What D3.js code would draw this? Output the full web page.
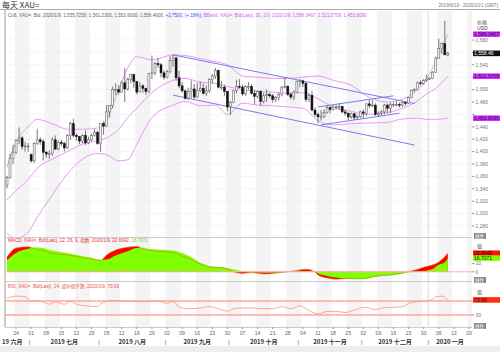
<!DOCTYPE html>
<html>
<head>
<meta charset="utf-8">
<script src="https://cdn.jsdelivr.net/npm/d3@7"></script>
<style>
body { margin: 0; background: #fff; }
svg { display: block; font-family: "Liberation Sans", Arial, sans-serif; }
</style>
</head>
<body>
<svg id="chart" width="500" height="352"></svg>
<script>
// daily candles, 2019-06-19 .. 2020-01-09 (one line per week)
const candleOpen = [
  1346, 1358, 1389,
  1399, 1418, 1422, 1408, 1409,
  1395, 1385, 1413, 1419, 1416,
  1399, 1396, 1397, 1419, 1404,
  1415, 1413, 1406, 1426, 1445,
  1426, 1424, 1417, 1426, 1414,
  1419, 1426, 1431, 1413, 1445,
  1441, 1464, 1474, 1500, 1500,
  1496, 1511, 1501, 1516, 1524,
  1513, 1496, 1506, 1502, 1497,
  1526, 1527, 1542, 1540, 1527,
  1520, 1529, 1547, 1551, 1519,
  1506, 1498, 1486, 1497, 1501,
  1488, 1498, 1502, 1494, 1498,
  1516, 1522, 1531, 1504, 1504,
  1497, 1472, 1479, 1498, 1505,
  1504, 1493, 1505, 1505, 1494,
  1489, 1497, 1481, 1490, 1492,
  1490, 1484, 1487, 1492, 1504,
  1505, 1492, 1488, 1496, 1513,
  1514, 1510, 1484, 1491, 1467,
  1460, 1456, 1456, 1463, 1471,
  1468, 1472, 1472, 1473, 1464,
  1462, 1456, 1461, 1455, 1457,
  1464, 1462, 1477, 1474, 1475,
  1460, 1462, 1464, 1475, 1470,
  1476, 1476, 1476, 1475, 1479,
  1478, 1487, 1499, 1500, 1511,
  1510, 1515, 1517, 1518, 1528,
  1551, 1566, 1574, 1555.7
];
const candleHigh = [
  1361, 1397, 1411,
  1420, 1439, 1425, 1416, 1414,
  1397, 1415, 1437, 1423, 1420,
  1401, 1402, 1423, 1426, 1418,
  1419, 1416, 1428, 1448, 1453,
  1429, 1425, 1428, 1434, 1424,
  1429, 1436, 1434, 1445, 1449,
  1475, 1475, 1505, 1510, 1507,
  1514, 1535, 1519, 1525, 1526,
  1513, 1512, 1509, 1503, 1527,
  1555, 1545, 1551, 1543, 1531,
  1532, 1554, 1557, 1553, 1530,
  1512, 1500, 1503, 1515, 1509,
  1511, 1513, 1510, 1507, 1518,
  1525, 1535, 1532, 1514, 1508,
  1497, 1482, 1500, 1516, 1517,
  1508, 1507, 1512, 1509, 1500,
  1499, 1499, 1495, 1500, 1495,
  1493, 1490, 1495, 1506, 1519,
  1507, 1496, 1499, 1514, 1517,
  1516, 1512, 1494, 1498, 1471,
  1463, 1467, 1468, 1474, 1473,
  1475, 1475, 1478, 1474, 1468,
  1463, 1463, 1462, 1459, 1466,
  1468, 1478, 1484, 1483, 1478,
  1465, 1467, 1477, 1477, 1479,
  1479, 1481, 1479, 1481, 1481,
  1488, 1500, 1502, 1513, 1515,
  1517, 1524, 1520, 1530, 1553,
  1582, 1576, 1611, 1561.2
];
const candleLow = [
  1341, 1356, 1380,
  1396, 1412, 1403, 1400, 1400,
  1382, 1382, 1411, 1411, 1386,
  1390, 1388, 1393, 1403, 1402,
  1409, 1400, 1404, 1419, 1423,
  1418, 1412, 1413, 1411, 1412,
  1417, 1424, 1411, 1400, 1427,
  1440, 1455, 1470, 1491, 1492,
  1495, 1480, 1498, 1510, 1503,
  1492, 1496, 1495, 1491, 1494,
  1517, 1523, 1535, 1520, 1516,
  1518, 1526, 1537, 1514, 1502,
  1495, 1484, 1483, 1486, 1485,
  1487, 1496, 1492, 1490, 1495,
  1510, 1517, 1502, 1500, 1490,
  1465, 1459, 1478, 1494, 1502,
  1490, 1490, 1500, 1492, 1476,
  1486, 1474, 1478, 1480, 1486,
  1479, 1480, 1482, 1489, 1502,
  1490, 1484, 1483, 1495, 1504,
  1504, 1480, 1480, 1465, 1456,
  1446, 1450, 1454, 1461, 1462,
  1466, 1468, 1467, 1462, 1458,
  1451, 1453, 1451, 1452, 1454,
  1454, 1458, 1470, 1472, 1458,
  1456, 1458, 1460, 1462, 1462,
  1472, 1473, 1471, 1472, 1474,
  1477, 1486, 1497, 1499, 1507,
  1508, 1512, 1516, 1517, 1527,
  1550, 1557, 1556, 1553.6
];
const candleClose = [
  1358, 1389, 1399,
  1418, 1422, 1408, 1409, 1409,
  1385, 1413, 1419, 1416, 1399,
  1396, 1397, 1419, 1404, 1415,
  1413, 1406, 1426, 1445, 1426,
  1424, 1417, 1426, 1414, 1419,
  1426, 1431, 1413, 1445, 1441,
  1464, 1474, 1500, 1500, 1496,
  1511, 1501, 1516, 1524, 1513,
  1496, 1506, 1502, 1497, 1526,
  1527, 1542, 1540, 1527, 1520,
  1529, 1547, 1551, 1519, 1506,
  1498, 1486, 1497, 1501, 1488,
  1498, 1502, 1494, 1498, 1516,
  1522, 1531, 1504, 1504, 1497,
  1472, 1479, 1498, 1505, 1504,
  1493, 1505, 1505, 1494, 1489,
  1497, 1481, 1490, 1492, 1490,
  1484, 1487, 1492, 1504, 1505,
  1492, 1488, 1496, 1513, 1514,
  1510, 1484, 1491, 1467, 1460,
  1456, 1456, 1463, 1471, 1468,
  1472, 1472, 1473, 1464, 1462,
  1456, 1461, 1455, 1457, 1464,
  1462, 1477, 1474, 1475, 1460,
  1462, 1464, 1475, 1470, 1476,
  1476, 1476, 1475, 1479, 1478,
  1487, 1499, 1500, 1511, 1510,
  1515, 1517, 1518, 1528, 1551,
  1566, 1574, 1556, 1558.46
];

const bbDates = ["2019-06-19", "2019-06-24", "2019-06-28", "2019-07-03", "2019-07-10", "2019-07-17",
  "2019-07-24", "2019-07-31", "2019-08-05", "2019-08-09", "2019-08-14", "2019-08-19", "2019-08-26",
  "2019-09-04", "2019-09-10", "2019-09-17", "2019-09-24", "2019-09-30", "2019-10-07", "2019-10-14",
  "2019-10-21", "2019-10-28", "2019-11-04", "2019-11-11", "2019-11-18", "2019-11-26", "2019-12-03",
  "2019-12-12", "2019-12-18", "2019-12-26", "2019-12-31", "2020-01-03", "2020-01-09"];
const bbUpper = [1375, 1415, 1440, 1452, 1445, 1436, 1436, 1438, 1452, 1500, 1535, 1553, 1548,
  1556, 1555, 1550, 1545, 1540, 1522, 1520, 1518, 1518, 1520, 1522, 1515, 1507, 1490,
  1480, 1483, 1500, 1518, 1545, 1589.35];
const bbMid = [1322, 1337, 1355, 1373, 1388, 1400, 1412, 1418, 1422, 1436, 1455, 1470, 1495,
  1515, 1518, 1512, 1510, 1505, 1500, 1497, 1496, 1494, 1495, 1485, 1472, 1465, 1460,
  1463, 1468, 1482, 1493, 1502, 1521.57];
const bbLower = [1268, 1260, 1270, 1294, 1330, 1364, 1388, 1397, 1395, 1385, 1387, 1412, 1455,
  1475, 1481, 1474, 1475, 1460, 1478, 1475, 1474, 1472, 1470, 1450, 1443, 1445, 1446,
  1447, 1452, 1454, 1452, 1452, 1453.81];

// hand-drawn trend lines: [from date, price, to date, price]
const trendLines = [
  ["2019-09-04", 1556, "2019-12-25", 1477.5],
  ["2019-09-04", 1491, "2019-12-25", 1410.5],
  ["2019-11-11", 1472, "2019-12-16", 1490],
  ["2019-11-12", 1443, "2019-12-18", 1462]
];

// MACD (12, 26, 9)
const macdDates = ["2019-06-19", "2019-06-24", "2019-06-28", "2019-07-02", "2019-07-05", "2019-07-10",
  "2019-07-17", "2019-07-23", "2019-07-29", "2019-08-01", "2019-08-05", "2019-08-08", "2019-08-14",
  "2019-08-19", "2019-08-21", "2019-08-26", "2019-08-29", "2019-09-04", "2019-09-06", "2019-09-12",
  "2019-09-17", "2019-09-23", "2019-09-27", "2019-10-02", "2019-10-07", "2019-10-10", "2019-10-16",
  "2019-10-21", "2019-10-30", "2019-11-05", "2019-11-08", "2019-11-11", "2019-11-14", "2019-11-19",
  "2019-11-26", "2019-12-02", "2019-12-06", "2019-12-13", "2019-12-19", "2019-12-23", "2019-12-25",
  "2019-12-30", "2020-01-02", "2020-01-06", "2020-01-08", "2020-01-09"];
const macdLine = [18, 29, 30.5, 28, 26, 22, 20.5, 18, 15.5, 14, 20.5, 26.5, 30, 31, 28, 26, 24.5,
  23.5, 20.5, 15, 9.5, 5.6, 4.5, 0, -2, -1, -2.7, -2, 1, 3, 0, -4, -7.5, -9, -8, -8, -5.5, -3.5,
  -1.5, 0.5, 2, 5.6, 8.5, 12, 18.5, 22.6];
const macdSignal = [14, 23, 28, 30, 29, 26, 23, 20, 17, 14.5, 15, 20, 25, 29, 29, 27.5, 27, 26, 24,
  18, 11, 6.4, 5.2, 3, 1, 0, -1, -1, 0.5, 1, 1, -2, -5, -7, -9, -9, -6, -4.5, -2.5, -1, 0, 1, 3.5,
  8.5, 11.6, 16.7];

// RSI (14)
const rsiDates = ["2019-06-19", "2019-06-24", "2019-06-27", "2019-07-01", "2019-07-02", "2019-07-05",
  "2019-07-09", "2019-07-11", "2019-07-16", "2019-07-18", "2019-07-22", "2019-07-25", "2019-07-31",
  "2019-08-01", "2019-08-07", "2019-08-14", "2019-08-19", "2019-08-22", "2019-08-26", "2019-08-29",
  "2019-09-02", "2019-09-04", "2019-09-06", "2019-09-11", "2019-09-17", "2019-09-20", "2019-09-25",
  "2019-09-30", "2019-10-02", "2019-10-07", "2019-10-10", "2019-10-16", "2019-10-21", "2019-10-24",
  "2019-10-29", "2019-11-01", "2019-11-05", "2019-11-11", "2019-11-14", "2019-11-19", "2019-11-22",
  "2019-11-26", "2019-11-29", "2019-12-03", "2019-12-06", "2019-12-10", "2019-12-16", "2019-12-19",
  "2019-12-23", "2019-12-26", "2019-12-31", "2020-01-02", "2020-01-03", "2020-01-07", "2020-01-09"];
const rsiValues = [78, 84, 83, 68, 72, 67, 61, 67, 61, 69, 61, 56, 54, 62, 71, 70, 68, 68, 70, 68,
  63, 69, 52, 48, 50, 54, 48, 41, 48, 50, 50, 48, 48, 54, 48, 56, 48, 33, 40, 41, 37, 41, 50, 52,
  45, 50, 52, 54, 63, 68, 70.5, 75, 82, 84, 73];

// axis labels
const priceTicks = d3.range(1280, 1581, 20);
const weekTickDays = ["2019-06-24", "2019-07-01", "2019-07-08", "2019-07-15", "2019-07-22", "2019-07-29",
  "2019-08-05", "2019-08-12", "2019-08-19", "2019-08-26", "2019-09-02", "2019-09-09", "2019-09-16",
  "2019-09-23", "2019-09-30", "2019-10-07", "2019-10-14", "2019-10-21", "2019-10-28", "2019-11-04",
  "2019-11-11", "2019-11-18", "2019-11-25", "2019-12-02", "2019-12-09", "2019-12-16", "2019-12-23",
  "2019-12-30", "2020-01-06", "2020-01-13", "2020-01-20"];
const monthStarts = ["2019-07-01", "2019-08-01", "2019-09-02", "2019-10-01", "2019-11-01", "2019-12-02", "2020-01-01"];
const monthNames = ["19 六月", "2019 七月", "2019 八月", "2019 九月", "2019 十月", "2019 十一月", "2019 十二月", "2020 一月"];

const svg = d3.select("#chart");
const fmtDay = d3.timeFormat("%Y-%m-%d");
const allDays = d3.timeDay.range(new Date(2019, 5, 19), new Date(2020, 0, 22))
  .filter(d => d.getDay() % 6 !== 0)
  .map(fmtDay);

const plotL = 5, plotR = 472;
const main = { top: 11, bottom: 237 }, macdP = { top: 237, bottom: 281 }, rsiP = { top: 281, bottom: 327 };

const x = d3.scalePoint().domain(allDays).range([7, 472]);
const step = x.step();
const yP = d3.scaleLinear().domain([1280, 1580]).range([226, 40]);
const yM = d3.scaleLinear().domain([0, 10]).range([271.8, 263.6]);
const yR = d3.scaleLinear().domain([30, 70]).range([315, 301]);

// clip paths
const defs = svg.append("defs");
[["clipMain", main], ["clipMacd", macdP], ["clipRsi", rsiP]].forEach(([id, p]) => {
  defs.append("clipPath").attr("id", id).append("rect")
    .attr("x", plotL).attr("y", p.top).attr("width", plotR - plotL).attr("height", p.bottom - p.top);
});

// alternating week bands
const bandG = svg.append("g");
weekTickDays.forEach((d, i) => {
  if (i % 2 !== 0) return;
  const x0 = x(d) - step / 2;
  const x1 = i + 1 < weekTickDays.length ? x(weekTickDays[i + 1]) - step / 2 : plotR;
  bandG.append("rect").attr("x", x0).attr("y", main.top).attr("width", Math.min(x1, plotR) - x0)
    .attr("height", rsiP.bottom - main.top).attr("fill", "#f4f4f4");
});

// horizontal grid
svg.append("g").selectAll("line").data(priceTicks).join("line")
  .attr("x1", plotL).attr("x2", plotR).attr("y1", d => yP(d)).attr("y2", d => yP(d))
  .attr("stroke", "#ececec").attr("stroke-width", 0.6);

// year separator
svg.append("line").attr("x1", x("2020-01-01") - step / 2).attr("x2", x("2020-01-01") - step / 2)
  .attr("y1", main.top).attr("y2", rsiP.bottom).attr("stroke", "#d8d8d8");

// frame lines
svg.append("line").attr("x1", 0).attr("x2", 500).attr("y1", 9.5).attr("y2", 9.5).attr("stroke", "#aaa");
svg.append("line").attr("x1", plotL).attr("x2", plotL).attr("y1", 10).attr("y2", rsiP.bottom).attr("stroke", "#999");
[main.bottom, macdP.bottom, rsiP.bottom].forEach(yy => {
  svg.append("line").attr("x1", plotL).attr("x2", plotR).attr("y1", yy + 0.5).attr("y2", yy + 0.5)
    .attr("stroke", "#ccc");
});

// ---------- main panel ----------
const gMain = svg.append("g").attr("clip-path", "url(#clipMain)");
const bbLine = (vals) => d3.line().curve(d3.curveMonotoneX)
  .x((d, i) => x(bbDates[i])).y(d => yP(d))(vals);
[bbUpper, bbMid, bbLower].forEach(v => {
  gMain.append("path").attr("d", bbLine(v)).attr("fill", "none").attr("stroke", "#e58cf5").attr("stroke-width", 0.9);
});

gMain.selectAll(".trend").data(trendLines).join("line").attr("class", "trend")
  .attr("x1", d => x(d[0])).attr("y1", d => yP(d[1]))
  .attr("x2", d => x(d[2])).attr("y2", d => yP(d[3]))
  .attr("stroke", "#7b7bf0").attr("stroke-width", 1);

const candles = candleOpen.map((o, i) => ({ day: allDays[i], o, h: candleHigh[i], l: candleLow[i], c: candleClose[i] }));
const cg = gMain.selectAll(".candle").data(candles).join("g").attr("class", "candle");
cg.append("line")
  .attr("x1", d => x(d.day)).attr("x2", d => x(d.day))
  .attr("y1", d => yP(d.h)).attr("y2", d => yP(d.l))
  .attr("stroke", "#555").attr("stroke-width", 0.8);
cg.append("rect")
  .attr("x", d => x(d.day) - 1).attr("width", 2)
  .attr("y", d => yP(Math.max(d.o, d.c)))
  .attr("height", d => Math.max(0.8, Math.abs(yP(d.o) - yP(d.c))))
  .attr("fill", d => d.c >= d.o ? "#f4f4f4" : "#111")
  .attr("stroke", d => d.c >= d.o ? "#555" : "#111").attr("stroke-width", 0.5);

// ---------- MACD panel ----------
const gMacd = svg.append("g").attr("clip-path", "url(#clipMacd)");
const areaM = (vals) => d3.area().curve(d3.curveMonotoneX)
  .x((d, i) => x(macdDates[i])).y0(yM(0)).y1(d => yM(d))(vals);
gMacd.append("path").attr("d", areaM(macdLine)).attr("fill", "#ff0000");
gMacd.append("path").attr("d", areaM(macdSignal)).attr("fill", "#80ff00");
gMacd.append("path")
  .attr("d", d3.line().curve(d3.curveMonotoneX).x((d, i) => x(macdDates[i])).y(d => yM(d))(macdLine))
  .attr("fill", "none").attr("stroke", "#c08a10").attr("stroke-width", 0.8).attr("stroke-opacity", 0.8);
gMacd.append("line").attr("x1", plotL).attr("x2", plotR).attr("y1", yM(0)).attr("y2", yM(0))
  .attr("stroke", "#ffb0b0").attr("stroke-width", 1);

// ---------- RSI panel ----------
const gRsi = svg.append("g").attr("clip-path", "url(#clipRsi)");
[70, 30].forEach(v => {
  gRsi.append("line").attr("x1", plotL).attr("x2", plotR).attr("y1", yR(v)).attr("y2", yR(v))
    .attr("stroke", "#ffa898").attr("stroke-width", 1.5);
});
gRsi.append("path")
  .attr("d", d3.line().curve(d3.curveMonotoneX).x((d, i) => x(rsiDates[i])).y(d => yR(d))(rsiValues))
  .attr("fill", "none").attr("stroke", "#ff9a80").attr("stroke-width", 0.9);

// ---------- texts ----------
svg.append("text").attr("x", 2).attr("y", 8).attr("font-size", 8)
  .attr("font-family", "Noto Sans CJK SC").attr("fill", "#333").text("每天 XAU=");
svg.append("text").attr("x", 498).attr("y", 7).attr("text-anchor", "end").attr("font-size", 4.6)
  .attr("fill", "#777").text("2019/6/19 - 2020/1/21 (GMT)");

const legMain = svg.append("text").attr("x", 8).attr("y", 16.5).attr("font-size", 4.6);
legMain.append("tspan").attr("fill", "#666")
  .text("Cn8, XAU=, Bid, 2020/1/9, 1,555.7250, 1,561.2300, 1,553.6000, 1,558.4600, ");
legMain.append("tspan").attr("fill", "#4a4aff").text("+2.7500, (+.18%), ");
legMain.append("tspan").attr("fill", "#d060f0").text("BBand, XAU=, Bid(Last), 20, 2.0, 2020/1/9, 1,589.3467, 1,521.5709, 1,453.8090");

const legMacd = svg.append("text").attr("x", 8).attr("y", 242).attr("font-size", 4.6)
  .attr("font-family", "Liberation Sans, Noto Sans CJK SC");
legMacd.append("tspan").attr("fill", "#ee3030").text("MACD, XAU=, Bid(Last), 12, 26, 9, 指数, 2020/1/9, 22.6042, ");
legMacd.append("tspan").attr("fill", "#70d000").text("16.7071");

svg.append("text").attr("x", 8).attr("y", 288).attr("font-size", 4.6)
  .attr("font-family", "Liberation Sans, Noto Sans CJK SC").attr("fill", "#ee5050")
  .text("RSI, XAU=, Bid(Last), 14, 威尔德平滑, 2020/1/9, 73.09");

// right axis
const axisG = svg.append("g").attr("font-size", 5).attr("fill", "#777");
const priceFlags = [1589.3467, 1521.5709, 1453.8090, 1558.46];
function tick(yv, label, hide) {
  axisG.append("line").attr("x1", plotR).attr("x2", plotR + 2.5).attr("y1", yv).attr("y2", yv).attr("stroke", "#999");
  if (!hide) axisG.append("text").attr("x", plotR + 3.5).attr("y", yv + 1.7).text(label);
}
priceTicks.forEach(v => {
  const hide = priceFlags.some(f => Math.abs(yP(f) - yP(v)) < 4);
  tick(yP(v), d3.format(",")(v), hide);
});
axisG.append("text").attr("x", 477).attr("y", 24).attr("font-family", "Noto Sans CJK SC")
  .attr("fill", "#444").text("价格");
axisG.append("text").attr("x", 477).attr("y", 30).attr("fill", "#444").text("USD");

function flag(yv, bg, fg, label) {
  axisG.append("rect").attr("x", 473).attr("y", yv - 2.8).attr("width", 27).attr("height", 5.6).attr("fill", bg);
  axisG.append("text").attr("x", 474).attr("y", yv + 1.7).attr("fill", fg).text(label);
}
flag(yP(1589.3467), "#cc33ff", "#3a0050", "1,589.3467");
flag(yP(1521.5709), "#cc33ff", "#3a0050", "1,521.5709");
flag(yP(1453.8090), "#cc33ff", "#3a0050", "1,453.8090");
flag(yP(1558.46), "#111", "#fff", "1,558.46");

// MACD axis
[10, 0].forEach(v => tick(yM(v), v, false));
axisG.append("text").attr("x", 477).attr("y", 248).attr("font-family", "Noto Sans CJK SC").attr("fill", "#444").text("值");
flag(yM(22.6042), "#ff1010", "#300", "22.6042");
flag(yM(16.7071), "#80ff00", "#230", "16.7071");

// RSI axis
tick(yR(70), 70, true);
tick(yR(30), 30, false);
axisG.append("text").attr("x", 477).attr("y", 294).attr("font-family", "Noto Sans CJK SC").attr("fill", "#444").text("值");
flag(yR(73.09), "#ff3010", "#300", "73.09");

// gray scale-name boxes
[main.bottom, macdP.bottom, rsiP.bottom].forEach(yy => {
  axisG.append("rect").attr("x", 474).attr("y", yy - 4).attr("width", 12).attr("height", 6).attr("fill", "#888");
  axisG.append("text").attr("x", 475).attr("y", yy + 0.8).attr("font-size", 4.5)
    .attr("font-family", "Noto Sans CJK SC").attr("fill", "#fff").text("线性");
});

// bottom axis
const xg = svg.append("g").attr("font-size", 5.2).attr("fill", "#666");
weekTickDays.forEach(d => {
  xg.append("line").attr("x1", x(d)).attr("x2", x(d)).attr("y1", rsiP.bottom).attr("y2", rsiP.bottom + 2).attr("stroke", "#999");
  xg.append("text").attr("x", x(d)).attr("y", 335).attr("text-anchor", "middle").text(d.slice(8));
});
const mBounds = [plotL - 5].concat(monthStarts.map(d => x(d) - step / 2)).concat([plotR]);
monthNames.forEach((name, i) => {
  const cx = i === 0 ? 2 : (mBounds[i] + mBounds[i + 1]) / 2;
  xg.append("text").attr("x", cx).attr("y", 343.5).attr("text-anchor", i === 0 ? "start" : "middle")
    .attr("font-size", 6).attr("font-weight", "bold").attr("fill", "#333")
    .attr("font-family", "Noto Sans CJK SC").text(name);
});
monthStarts.forEach(d => {
  xg.append("text").attr("x", x(d) - step / 2).attr("y", 343.5).attr("text-anchor", "middle")
    .attr("font-size", 6).attr("fill", "#555").text("|");
});
svg.append("rect").attr("x", 0).attr("y", 346).attr("width", 500).attr("height", 6).attr("fill", "#eee");
</script>
</body>
</html>
